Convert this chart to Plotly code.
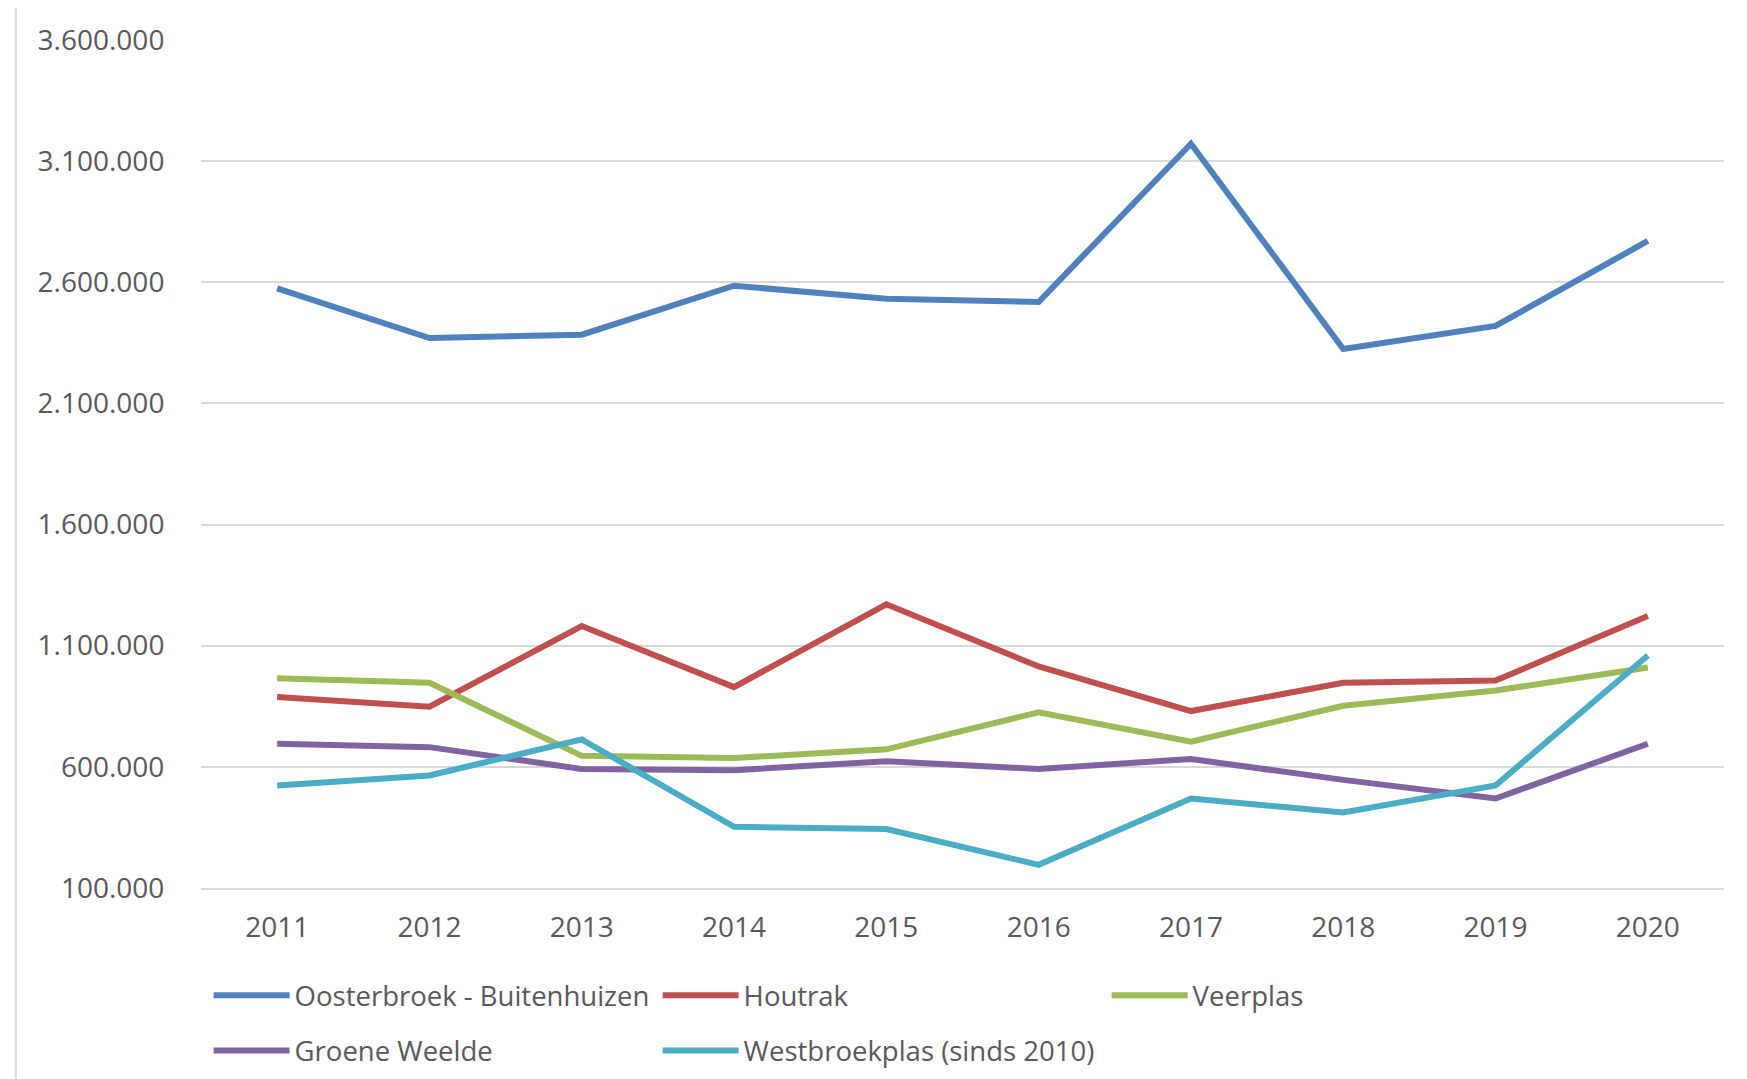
import plotly.graph_objects as go

years = ["2011", "2012", "2013", "2014", "2015", "2016", "2017", "2018", "2019", "2020"]
oosterbroek = [2575000, 2370000, 2384000, 2586000, 2532000, 2519000, 3172000, 2325000, 2420000, 2771000]
houtrak = [888000, 848000, 1181000, 929000, 1271000, 1014000, 830000, 947000, 956000, 1222000]
veerplas = [965000, 947000, 645000, 636000, 672000, 825000, 704000, 852000, 915000, 1010000]
groene_weelde = [695000, 681000, 591000, 586000, 623000, 591000, 632000, 546000, 469000, 695000]
westbroekplas = [523000, 564000, 713000, 352000, 343000, 195000, 469000, 411000, 523000, 1059000]

series = [
    ("Oosterbroek - Buitenhuizen", oosterbroek, "#4F81BD", "legend"),
    ("Houtrak", houtrak, "#C0504D", "legend"),
    ("Veerplas", veerplas, "#9BBB59", "legend"),
    ("Groene Weelde", groene_weelde, "#8064A2", "legend2"),
    ("Westbroekplas (sinds 2010)", westbroekplas, "#4BACC6", "legend2"),
]

FONT = "Open Sans, Noto Sans, sans-serif"
TXT = "#595959"
GRID = "#D9D9D9"

fig = go.Figure()
for name, vals, col, lg in series:
    fig.add_trace(go.Scatter(
        x=years, y=vals, name=name, mode="lines",
        line=dict(color=col, width=6), legend=lg,
    ))

legend_common = dict(
    orientation="h", xanchor="left", yanchor="middle",
    font=dict(family=FONT, size=27.5, color=TXT),
    entrywidth=358, entrywidthmode="pixels", itemwidth=76,
    bgcolor="rgba(0,0,0,0)", borderwidth=0, traceorder="normal",
)

fig.update_layout(
    width=1747, height=1079,
    margin=dict(l=193, r=31, t=25, b=186),
    paper_bgcolor="white", plot_bgcolor="white",
    separators=",.",
    font=dict(family=FONT, size=28, color=TXT),
    showlegend=True,
    legend=dict(x=0.005, y=-0.1267, **legend_common),
    legend2=dict(x=0.005, y=-0.1918, **legend_common),
    xaxis=dict(
        type="category", range=[-0.5, 9.5], showgrid=False, zeroline=False,
        showline=True, linecolor=GRID, linewidth=1.5,
        ticks="outside", ticklen=14, tickcolor="rgba(0,0,0,0)",
        tickfont=dict(family=FONT, size=28, color=TXT),
    ),
    yaxis=dict(
        range=[99500, 3600500], tick0=100000, dtick=500000,
        tickformat=",.0f", showgrid=True, gridcolor=GRID, gridwidth=1.5,
        zeroline=False, showline=False,
        ticks="outside", ticklen=30, tickcolor="rgba(0,0,0,0)",
        tickfont=dict(family=FONT, size=28, color=TXT),
    ),
    shapes=[dict(type="line", xref="paper", yref="paper",
                 x0=-0.1216, x1=-0.1216, y0=-0.25, y1=1.05,
                 line=dict(color=GRID, width=2))],
)

fig.write_html("out.html")
